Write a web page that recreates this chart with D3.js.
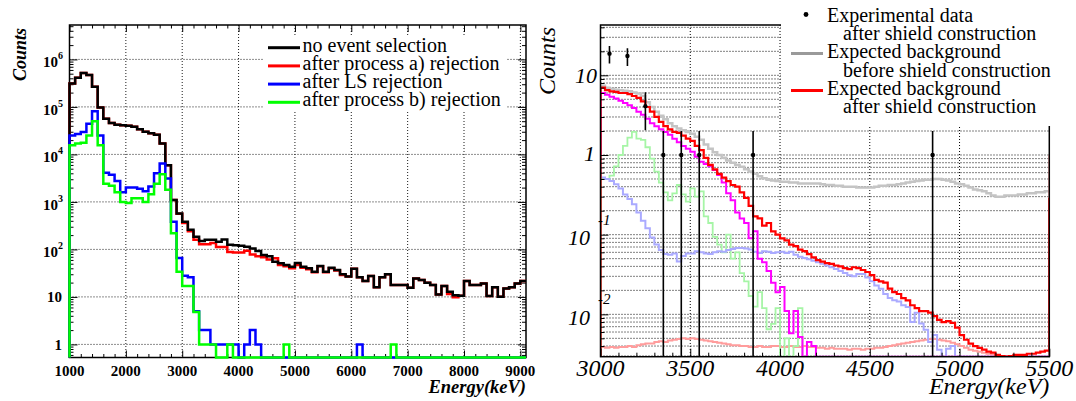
<!DOCTYPE html>
<html><head><meta charset="utf-8">
<script src="https://cdn.jsdelivr.net/npm/d3@7"></script>
<style>body{margin:0;background:#fff}svg{display:block}</style>
</head><body>
<svg id="c" width="1076" height="401"></svg>
<script>
// ================= LEFT PANEL DATA (100 keV bins from 1000 keV) =================
const leftFirstBin = 1000;
const leftBinWidth = 100;
const blackNoSelection = [3.1e5,4.1e5,5.2e5,4.7e5,2.65e5,9.7e4,5.6e4,4.6e4,4.2e4,4.1e4,
  4.0e4,3.8e4,3.4e4,3.0e4,2.8e4,2.6e4,1.7e4,5.9e3,1.1e3,570,
  380,260,185,150,160,160,145,162,126,123,
  120,114,105,92,76,72,55,51,47,43,
  52,43,40,34,45,34,41,37,30,27,
  39,26,21.5,27.5,15.9,26,30,17.8,17.8,17.8,
  15.6,24.5,22.6,19.9,17.8,11.3,16.9,12.9,10.9,10.6,
  21.5,17.8,17.8,19.2,10.4,15.9,10.1,15.1,15.9,19.2,
  21.5];
const redProcessA = [3.1e5,4.1e5,5.2e5,4.7e5,2.65e5,9.7e4,5.6e4,4.6e4,4.2e4,4.1e4,
  4.0e4,3.8e4,3.4e4,3.0e4,2.8e4,2.6e4,1.7e4,5.9e3,1.1e3,560,
  360,240,160,129,129,137,113,113,88,86,
  86,94,78,72,68,61,65,47,44,40,
  47,41,38,33,44,33,40,36,29,27,
  39,26,21.5,27.5,15.9,26,30,17.8,17.8,17.8,
  15.6,24.5,22.6,19.9,17.8,11.3,16.9,11.5,9.8,10.6,
  21.5,17.8,17.8,19.2,10.4,15.9,10.1,15.1,15.9,19.2,
  21.5];
const blueLS = [2.5e4,2.7e4,2.95e4,4.4e4,8.1e4,2.5e4,4.1e3,3.75e3,2.75e3,1.6e3,
  2.0e3,2.0e3,1.9e3,1.67e3,2.1e3,4.0e3,6.4e3,3.1e3,380,66,
  28,26,5,2,2,1,1,1,1,1,
  0,1,2,1,0,0,0,0,0,0,
  0,0,0,0,0,0,0,0,0,0,
  0,1,0,0,0,0,0,0,0,0,
  0,0,0,0,0,0,0,0,0,0,
  0,0,0,0,0,0,0,0,0,0,
  0];
const greenProcessB = [1.55e4,1.7e4,1.75e4,2.5e4,5.0e4,1.55e4,2.4e3,2.2e3,1.6e3,1.0e3,
  950,1.2e3,1.2e3,1.0e3,1.45e3,2.4e3,3.8e3,1.8e3,220,34,
  17,17,4.8,1,1,1,0,0,1,0,
  0,0,0,0,0,0,0,0,1,0,
  0,0,0,0,0,0,0,0,0,0,
  0,0,0,0,0,0,0,1,0,0,
  0,0,0,0,0,0,0,0,0,0,
  0,0,0,0,0,0,0,0,0,0,
  0];
const leftXTicks = [1000,2000,3000,4000,5000,6000,7000,8000,9000];
const leftYTicks = [1,10,100,1e3,1e4,1e5,1e6];
const leftLegendLabels = ["no event selection","after process a) rejection","after LS rejection","after process b) rejection"];

// ================= RIGHT PANEL DATA (25 keV bins from 3000 keV) =================
const rightFirstBin = 3000;
const rightBinWidth = 25;
const grayBefore = [7.4,7.0,6.8,6.6,6.5,6.4,6.3,6.1,5.9,5.5,
  4.6,4.0,3.5,3.1,2.8,2.5,2.3,2.15,2.05,1.95,
  1.85,1.7,1.55,1.35,1.2,1.08,1.0,0.92,0.85,0.8,
  0.75,0.71,0.66,0.62,0.58,0.54,0.51,0.49,0.48,0.47,
  0.46,0.46,0.45,0.45,0.44,0.44,0.44,0.44,0.44,0.43,
  0.42,0.42,0.41,0.41,0.40,0.40,0.40,0.39,0.39,0.39,
  0.39,0.40,0.41,0.41,0.42,0.42,0.43,0.44,0.45,0.46,
  0.47,0.48,0.49,0.49,0.50,0.50,0.49,0.48,0.46,0.44,
  0.43,0.41,0.39,0.37,0.36,0.35,0.33,0.31,0.30,0.30,
  0.31,0.31,0.31,0.32,0.32,0.33,0.33,0.34,0.34,0.35];
const redAfter = [7.0,6.5,6.3,6.2,6.0,6.0,5.8,5.5,5.2,4.7,
  4.0,3.5,3.0,2.6,2.3,2.1,1.95,1.9,1.75,1.6,
  1.5,1.3,1.15,0.92,0.75,0.66,0.58,0.52,0.47,0.42,
  0.40,0.34,0.29,0.23,0.17,0.16,0.13,0.14,0.11,0.10,
  0.09,0.085,0.075,0.072,0.065,0.062,0.057,0.052,0.048,0.046,
  0.044,0.043,0.041,0.040,0.038,0.037,0.039,0.038,0.036,0.034,
  0.031,0.027,0.026,0.025,0.021,0.019,0.018,0.016,0.015,0.013,
  0.012,0.011,0.011,0.0105,0.0095,0.0085,0.008,0.0082,0.0078,0.0068,
  0.0055,0.0048,0.0043,0.004,0.0038,0.0036,0.0034,0.0033,0.0031,0.003,
  0.0029,0.003,0.0031,0.0031,0.0031,0.0032,0.0032,0.0033,0.0034,0.0035];
const magentaComp = [6.0,5.7,5.4,5.1,4.8,4.5,4.2,3.9,3.5,3.2,
  2.85,2.5,2.3,2.1,1.95,1.8,1.6,1.45,1.3,1.2,
  1.1,0.95,0.82,0.77,0.72,0.65,0.56,0.45,0.33,0.27,
  0.19,0.16,0.14,0.09,0.11,0.05,0.045,0.035,0.025,0.019,
  0.022,0.011,0.0058,0.011,0.0052,0,0.0045,0.004,0,0,
  0,0,0,0,0,0,0,0,0,0, 0,0,0,0,0,0,0,0,0,0,
  0,0,0,0,0,0,0,0,0,0, 0,0,0,0,0,0,0,0,0,0,
  0,0,0,0,0,0,0,0,0,0];
const greenComp = [0.5,0.5,0.55,0.72,1.0,1.3,1.65,1.95,1.6,1.55,
  1.25,0.9,0.62,0.45,0.34,0.27,0.33,0.42,0.32,0.26,
  0.38,0.3,0.35,0.17,0.14,0.094,0.075,0.06,0.1,0.05,
  0.06,0.033,0.026,0.017,0.0125,0.019,0.012,0.0065,0.0076,0.012,
  0,0.005,0,0.004,0.012,0,0,0,0,0,
  0,0,0,0,0,0,0,0,0,0, 0,0,0,0,0,0,0,0,0,0,
  0,0,0,0,0,0,0,0,0,0, 0,0,0,0,0,0,0,0,0,0,
  0,0,0,0,0,0,0,0,0,0];
const lavenderComp = [0.52,0.5,0.47,0.43,0.38,0.32,0.28,0.24,0.19,0.15,
  0.12,0.092,0.075,0.064,0.057,0.056,0.058,0.046,0.054,0.058,
  0.058,0.062,0.06,0.058,0.057,0.06,0.062,0.061,0.064,0.066,
  0.068,0.068,0.067,0.065,0.061,0.059,0.062,0.061,0.059,0.06,
  0.061,0.059,0.061,0.056,0.053,0.051,0.049,0.047,0.045,0.043,
  0.041,0.039,0.037,0.035,0.033,0.031,0.030,0.032,0.032,0.029,
  0.026,0.023,0.021,0.018,0.016,0.015,0.0145,0.013,0.0124,0.008,
  0.0105,0.0077,0.0064,0.0045,0.0055,0.0036,0.0028,0.0037,0.004,0,
  0,0,0,0,0,0,0,0,0,0, 0,0,0,0,0,0,0,0,0,0];
const salmonComp = [0.0039,0.0038,0.0039,0.0038,0.0039,0.0039,0.004,0.0039,0.0041,0.0042,
  0.0043,0.0043,0.0045,0.0046,0.0045,0.0047,0.0048,0.0049,0.005,0.0049,
  0.005,0.0049,0.0048,0.0047,0.0046,0.0045,0.0044,0.0043,0.0042,0.0041,
  0.0041,0.004,0.004,0.0039,0.0039,0.004,0.0039,0.0039,0.004,0.004,
  0.0039,0.0039,0.004,0.0039,0.0039,0.004,0.0039,0.0039,0.0038,0.0038,
  0.0037,0.0038,0.0037,0.0037,0.0037,0.0036,0.0037,0.0037,0.0036,0.0037,
  0.0037,0.0038,0.0038,0.0039,0.004,0.0041,0.0042,0.0043,0.0044,0.0045,
  0.0046,0.0047,0.0048,0.0049,0.0049,0.0048,0.0047,0.0046,0.0044,0.0042,
  0.004,0.0038,0.0036,0.0035,0.0034,0.0033,0.0032,0.0031,0.003,0.0029,
  0.0028,0.0028,0.0028,0.0028,0.0028,0.0028,0.0028,0.0028,0.0028,0.0028];
// value of the neighbouring out-of-range bins (edge steps at 3000 / 5500 keV)
const magentaBelow = 1.0, lavenderBelow = 1.0, redAbove = 0.29, salmonAbove = 1.0;
const dataE = [3050,3150,3250,3350,3450,3550,3850,4850];
const dataV = [18.7,17.5,4.1,1,1,1,1,1];
const dataErr = [4.6,4.4,2.05,1,1,1,1,1];
const rightXTicks = [3000,3500,4000,4500,5000,5500];
const rightYTicks = [0.01,0.1,1,10];

// ================= DRAWING =================
const svg = d3.select("#c");
svg.append("rect").attr("width",1076).attr("height",401).attr("fill","#fff");
const SERIF = "'Liberation Serif','Times New Roman',serif";

function histPoints(start, width, vals, ymin, below, above){
  const pts = [];
  pts.push([start, below != null ? below : ymin]);
  vals.forEach((v,i)=>{
    const vv = Math.max(v, ymin);
    pts.push([start+i*width, vv]);
    pts.push([start+(i+1)*width, vv]);
  });
  pts.push([start+vals.length*width, above != null ? above : Math.max(vals[vals.length-1], ymin)]);
  return pts;
}
function tickAxis(g, axisFn, scale, vals, size){
  g.call(axisFn(scale).tickValues(vals).tickSize(size).tickFormat(""))
   .call(s=>s.select(".domain").remove())
   .call(s=>s.selectAll("line").attr("stroke","#000").attr("stroke-width",1));
}
function minorLog(domain){
  const out=[];
  for(let n=-4;n<=7;n++) for(let k=2;k<=9;k++){const v=k*Math.pow(10,n); if(v>=domain[0]&&v<=domain[1]) out.push(v);}
  return out;
}
function allLog(domain){
  const out=[];
  for(let n=-4;n<=7;n++) for(let k=1;k<=9;k++){const v=k*Math.pow(10,n); if(v>domain[0]*1.0001&&v<domain[1]) out.push(v);}
  return out;
}

// ---------- LEFT PANEL ----------
const LX = d3.scaleLinear().domain([1000,9100]).range([69.5,526]);
const LY = d3.scaleLog().domain([0.53,5.3e6]).range([357.5,25]);
const L = svg.append("g");
const dotted = "1,2";
L.selectAll(".gx").data(leftXTicks.slice(1)).enter().append("line")
  .attr("x1",d=>LX(d)).attr("x2",d=>LX(d)).attr("y1",25).attr("y2",357.5)
  .attr("stroke","#000").attr("stroke-width",0.9).attr("stroke-dasharray",dotted);
L.selectAll(".gy").data(leftYTicks).enter().append("line")
  .attr("x1",69.5).attr("x2",526).attr("y1",d=>LY(d)).attr("y2",d=>LY(d))
  .attr("stroke","#000").attr("stroke-width",0.9).attr("stroke-dasharray",dotted);
L.append("rect").attr("x",264).attr("y",35).attr("width",243).attr("height",76).attr("fill","#fff");
L.append("rect").attr("x",69.5).attr("y",25).attr("width",526-69.5).attr("height",357.5-25)
  .attr("fill","none").attr("stroke","#000").attr("stroke-width",1.5);
const lMinorX = d3.range(1200,9100,200).filter(v=>v%1000!==0);
tickAxis(L.append("g").attr("transform","translate(0,357.5)"), d3.axisBottom, LX, leftXTicks, -7);
tickAxis(L.append("g").attr("transform","translate(0,357.5)"), d3.axisBottom, LX, lMinorX, -3.5);
tickAxis(L.append("g").attr("transform","translate(0,25)"), d3.axisTop, LX, leftXTicks, -7);
tickAxis(L.append("g").attr("transform","translate(0,25)"), d3.axisTop, LX, lMinorX, -3.5);
const lMinorY = minorLog(LY.domain());
tickAxis(L.append("g").attr("transform","translate(69.5,0)"), d3.axisLeft, LY, leftYTicks, -8);
tickAxis(L.append("g").attr("transform","translate(69.5,0)"), d3.axisLeft, LY, lMinorY, -4);
tickAxis(L.append("g").attr("transform","translate(526,0)"), d3.axisRight, LY, leftYTicks, -8);
tickAxis(L.append("g").attr("transform","translate(526,0)"), d3.axisRight, LY, lMinorY, -4);
const lLine = d3.line().x(d=>LX(d[0])).y(d=>LY(d[1]));
const leftSeries = [
  {vals:redProcessA, color:"#ff0000"},
  {vals:blackNoSelection, color:"#000000"},
  {vals:blueLS, color:"#0000ff"},
  {vals:greenProcessB, color:"#00ff00"}];
leftSeries.forEach(s=>{
  L.append("path").attr("d", lLine(histPoints(leftFirstBin,leftBinWidth,s.vals,0.53)))
   .attr("fill","none").attr("stroke",s.color).attr("stroke-width",2.5).attr("stroke-linejoin","miter");
});
L.selectAll(".xl").data(leftXTicks).enter().append("text")
  .attr("x",d=>LX(d)).attr("y",375.5).attr("text-anchor","middle")
  .attr("font-family",SERIF).attr("font-weight","bold").attr("font-size",15).text(d=>d);
leftYTicks.forEach(v=>{
  const e = Math.round(Math.log10(v));
  if(e<2){
    L.append("text").attr("x",62).attr("y",LY(v)+5.5).attr("text-anchor","end")
     .attr("font-family",SERIF).attr("font-weight","bold").attr("font-size",15).text(e===0?"1":"10");
  } else {
    const t = L.append("text").attr("x",63).attr("y",LY(v)+8).attr("text-anchor","end")
     .attr("font-family",SERIF).attr("font-weight","bold").attr("font-size",15);
    t.append("tspan").text("10");
    t.append("tspan").attr("dy",-8).attr("font-size",10).text(e);
  }
});
L.append("text").attr("transform","translate(26,28) rotate(-90)").attr("text-anchor","end")
  .attr("font-family",SERIF).attr("font-weight","bold").attr("font-style","italic").attr("font-size",18).text("Counts");
L.append("text").attr("x",526).attr("y",393).attr("text-anchor","end")
  .attr("font-family",SERIF).attr("font-weight","bold").attr("font-style","italic").attr("font-size",18.5).text("Energy(keV)");
const legColors = ["#000000","#ff0000","#0000ff","#00ff00"];
leftLegendLabels.forEach((lab,i)=>{
  const y = 47.7 + i*18.2;
  L.append("line").attr("x1",268).attr("x2",300).attr("y1",y).attr("y2",y).attr("stroke",legColors[i]).attr("stroke-width",3);
  L.append("text").attr("x",302.5).attr("y",y+4).attr("font-family",SERIF).attr("font-size",20).text(lab);
});

// ---------- RIGHT PANEL ----------
const RX = d3.scaleLinear().domain([3000,5500]).range([600.5,1049.3]);
const RY = d3.scaleLog().domain([0.00294,42.8]).range([356.7,25]);
const R = svg.append("g");
svg.append("defs").append("clipPath").attr("id","rclip").append("rect")
  .attr("x",600.5).attr("y",25).attr("width",1049.3-600.5).attr("height",356.7-25);
R.selectAll(".gx").data(rightXTicks.slice(1,-1)).enter().append("line")
  .attr("x1",d=>RX(d)).attr("x2",d=>RX(d)).attr("y1",25).attr("y2",356.7)
  .attr("stroke","#000").attr("stroke-width",1).attr("stroke-dasharray",dotted);
R.selectAll(".gy").data(allLog(RY.domain())).enter().append("line")
  .attr("x1",600.5).attr("x2",1049.3).attr("y1",d=>RY(d)).attr("y2",d=>RY(d))
  .attr("stroke","#000").attr("stroke-width",1).attr("stroke-dasharray",dotted);
const rLine = d3.line().x(d=>RX(d[0])).y(d=>RY(d[1]));
const ymin = 0.00294;
const HG = R.append("g").attr("clip-path","url(#rclip)");
const rightSeries = [
  {vals:grayBefore, color:"#c4c4c4", w:2.5},
  {vals:salmonComp, color:"#ff9c9c", w:2, above:salmonAbove},
  {vals:greenComp, color:"#a6f5a6", w:1.8},
  {vals:lavenderComp, color:"#aaaaff", w:2, below:lavenderBelow},
  {vals:magentaComp, color:"#ff00ff", w:2, below:magentaBelow},
  {vals:redAfter, color:"#ff0000", w:2.2, above:redAbove}];
rightSeries.forEach(s=>{
  HG.append("path").attr("d", rLine(histPoints(rightFirstBin,rightBinWidth,s.vals,ymin,s.below,s.above)))
   .attr("fill","none").attr("stroke",s.color).attr("stroke-width",s.w);
});
dataE.forEach((e,i)=>{
  const lo = Math.max(dataV[i]-dataErr[i], ymin*0.5), hi = dataV[i]+dataErr[i];
  HG.append("line").attr("x1",RX(e)).attr("x2",RX(e)).attr("y1",RY(lo)).attr("y2",RY(hi))
    .attr("stroke","#000").attr("stroke-width",1.6);
  HG.append("circle").attr("cx",RX(e)).attr("cy",RY(dataV[i])).attr("r",2.2).attr("fill","#000");
});
R.append("rect").attr("x",600.5).attr("y",25).attr("width",1049.3-600.5).attr("height",356.7-25)
  .attr("fill","none").attr("stroke","#000").attr("stroke-width",1.5);
const rMinorX = d3.range(3100,5500,100).filter(v=>v%500!==0);
tickAxis(R.append("g").attr("transform","translate(0,356.7)"), d3.axisBottom, RX, rightXTicks, -8);
tickAxis(R.append("g").attr("transform","translate(0,356.7)"), d3.axisBottom, RX, rMinorX, -4);
tickAxis(R.append("g").attr("transform","translate(600.5,0)"), d3.axisLeft, RY, rightYTicks, -8);
tickAxis(R.append("g").attr("transform","translate(600.5,0)"), d3.axisLeft, RY, minorLog(RY.domain()), -4);
R.append("rect").attr("x",781).attr("y",0).attr("width",295).attr("height",126).attr("fill","#fff");
R.selectAll(".xl").data(rightXTicks).enter().append("text")
  .attr("x",d=>RX(d)).attr("y",376).attr("text-anchor","middle")
  .attr("font-family",SERIF).attr("font-style","italic").attr("font-size",24).text(d=>d);
rightYTicks.forEach(v=>{
  const e = Math.round(Math.log10(v));
  const y = RY(v);
  if(e===1){
    R.append("text").attr("x",597).attr("y",y+7.5).attr("text-anchor","end")
     .attr("font-family",SERIF).attr("font-style","italic").attr("font-size",22).text("10");
  } else if(e===0){
    R.append("text").attr("x",595).attr("y",y+6).attr("text-anchor","end")
     .attr("font-family",SERIF).attr("font-style","italic").attr("font-size",22).text("1");
  } else {
    R.append("text").attr("x",590).attr("y",y+10.5).attr("text-anchor","end")
     .attr("font-family",SERIF).attr("font-style","italic").attr("font-size",22).text("10");
    R.append("text").attr("x",598).attr("y",y-10).attr("text-anchor","start")
     .attr("font-family",SERIF).attr("font-style","italic").attr("font-size",15).text(String(e));
  }
});
R.append("text").attr("transform","translate(555,27) rotate(-90)").attr("text-anchor","end")
  .attr("font-family",SERIF).attr("font-style","italic").attr("font-size",24).text("Counts");
R.append("text").attr("x",1049.3).attr("y",394).attr("text-anchor","end")
  .attr("font-family",SERIF).attr("font-style","italic").attr("font-size",24).text("Energy(keV)");
const rLeg = [
  {t:"Experimental data", x:827, y:21.5},
  {t:"after shield construction", x:843, y:39.9},
  {t:"Expected background", x:827, y:58.2},
  {t:"before shield construction", x:843, y:76.6},
  {t:"Expected background", x:827, y:95},
  {t:"after shield construction", x:843, y:113.3}];
rLeg.forEach(r=>R.append("text").attr("x",r.x).attr("y",r.y).attr("font-family",SERIF).attr("font-size",20).text(r.t));
R.append("circle").attr("cx",806).attr("cy",14.5).attr("r",2.4).attr("fill","#000");
R.append("line").attr("x1",791).attr("x2",823).attr("y1",53.5).attr("y2",53.5).attr("stroke","#9a9a9a").attr("stroke-width",3);
R.append("line").attr("x1",791).attr("x2",823).attr("y1",90.5).attr("y2",90.5).attr("stroke","#ff0000").attr("stroke-width",3);
</script>
</body></html>
